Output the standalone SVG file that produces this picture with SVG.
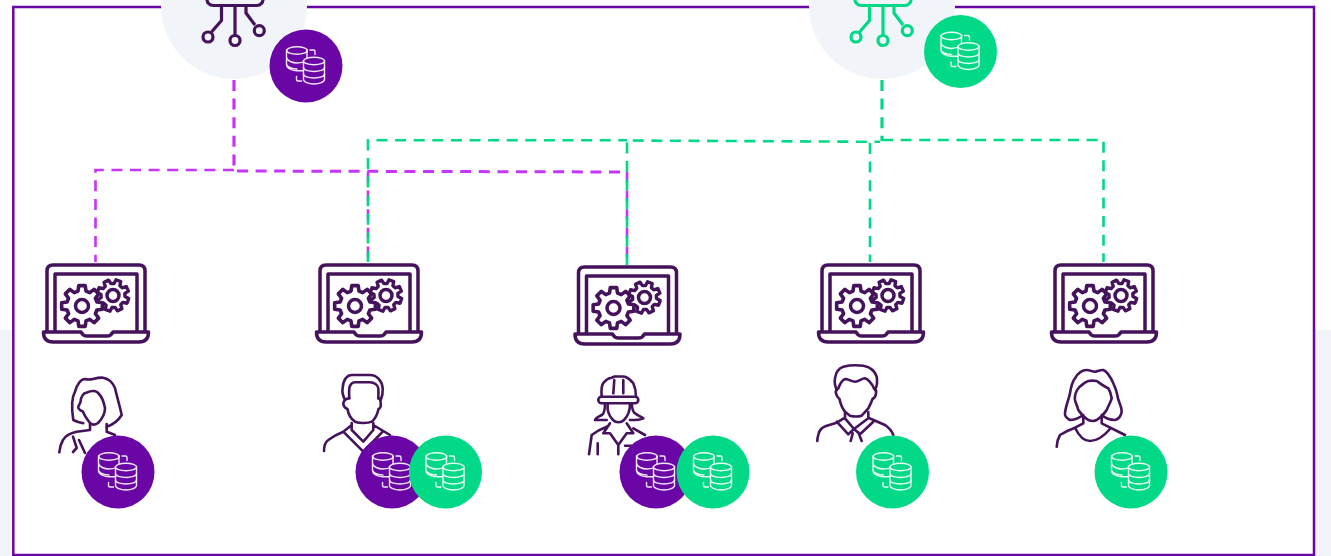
<svg xmlns="http://www.w3.org/2000/svg" width="1331" height="556" viewBox="0 0 1331 556">
<style>
.ink{fill:none;stroke:#45125c;stroke-width:2.600;stroke-linecap:round;stroke-linejoin:round}
.lap{fill:none;stroke:#45125c;stroke-width:3.500;stroke-linejoin:round;stroke-linecap:round}
.net{fill:none;stroke-width:3.200;stroke-linejoin:round}
.dash{fill:none;stroke-dasharray:11 7.6;stroke-width:2.600}
.dv{stroke:#c535fb}
.dg{stroke:#02d987}
.pur{fill:#6a06a6}
.grn{fill:#02d987}
.wl{fill:none;stroke:#fff;stroke-width:1.400;stroke-linecap:round;stroke-opacity:.9}
.wf{stroke:#fff;stroke-width:1.400;stroke-opacity:.9}
</style>
<defs>
<path id="gear" d="M14.5,-3.88 L19.75,-3.13 19.75,3.13 14.5,3.88 13,7.5 16.18,11.76 11.76,16.18 7.5,13 3.88,14.5 3.13,19.75 -3.13,19.75 -3.88,14.5 -7.5,13 -11.76,16.18 -16.18,11.76 -13,7.5 -14.5,3.88 -19.75,3.13 -19.75,-3.13 -14.5,-3.88 -13,-7.5 -16.18,-11.76 -11.76,-16.18 -7.5,-13 -3.88,-14.5 -3.13,-19.75 3.13,-19.75 3.88,-14.5 7.5,-13 11.76,-16.18 16.18,-11.76 13,-7.5 Z"/>
<g id="laptop">
<path class="lap" d="M5 67V7Q5 1 11 1H97Q103 1 103 7V67M13 67V10H95V67"/>
<path class="lap" d="M1.500 68H39Q41 72 45 72H65Q69 72 71 68H106.500Q106.500 78 97 78H11Q1.500 78 1.500 68Z"/>
<use href="#gear" class="lap" style="stroke-width:4.200" transform="translate(71 31.500) rotate(20) scale(.8)"/>
<circle class="lap" cx="71" cy="31.500" r="6"/>
<use href="#gear" class="lap" style="fill:#fff" transform="translate(40 42) scale(1.030)"/>
<circle class="lap" cx="40" cy="42" r="6.500"/>
</g>
<g id="db">
<circle r="36.500"/>
<path class="wl" d="M-19.500 -16V-1.500C-19.500 2.500 -13 4.800 -9 4.800H-3M-19.500 -9C-19.500 -5 -13 -3 -9 -3S-2 -4 1 -6M-19.500 -2C-19.500 1 -13 3 -9 3M1 -16V-8"/>
<ellipse class="wl" cx="-9" cy="-15.500" rx="10.300" ry="3.800"/>
<path class="wf" d="M-2.500 -5V13.500C-2.500 16 2.500 18 8 18S18.500 16 18.500 13.500V-5Z"/>
<ellipse class="wf" cx="8" cy="-5" rx="10.500" ry="3.800"/>
<path class="wl" d="M-2.500 1.500C-2.500 4 2.500 5.500 8 5.500S18.500 4 18.500 1.500M-2.500 8C-2.500 10.500 2.500 12 8 12S18.500 10.500 18.500 8"/>
<path class="wl" d="M4 -16H7.500Q9 -16 9 -14.500V-11.500M-9.500 10.500V13.500Q-9.500 15 -8 15H-4.500"/>
</g>
<g id="net">
<rect x="-27" y="-14" width="56" height="19.500" rx="6"/>
<path d="M-12.500 5.500V20.500L-22.500 32M1 5.500V35M12 5.500V13L21 25"/>
<circle cx="-26" cy="37" r="5"/>
<circle cx="1" cy="40.500" r="5"/>
<circle cx="25.300" cy="30.700" r="5"/>
</g>
</defs>

<rect id="panel" x="0" y="330" width="1331" height="226" fill="#f1f4f8"/>
<rect id="frame" x="13.300" y="7" width="1300.700" height="548" fill="#fff" stroke="#6a06a6" stroke-width="2.500"/>

<g id="connectors">
<path class="dash dv" style="stroke-width:3.200" d="M234 80V170"/>
<path class="dash dv" d="M234 170H95.500V262"/>
<path class="dash dv" style="stroke-width:3" d="M237 171L626 172"/>
<path class="dash dv" d="M368 172V262"/>
<path class="dash dv" d="M627 172V265"/>
<path class="dash dg" style="stroke-width:3.200" d="M882 80V141"/>
<path class="dash dg" d="M882 140H1103.500V262"/>
<path class="dash dg" d="M368 262V140.300H627"/>
<path class="dash dg" d="M627 265V140.500L880 141.800"/>
<path class="dash dg" d="M870 143V262"/>
</g>

<g id="hub-purple">
<circle cx="234" cy="6" r="73" fill="#f1f4f8"/>
<use href="#net" class="net" x="234" stroke="#45125c"/>
<use href="#db" class="pur" x="306" y="66"/>
</g>
<g id="hub-green">
<circle cx="882" cy="6" r="73" fill="#f1f4f8"/>
<use href="#net" class="net" x="882" stroke="#02d987"/>
<use href="#db" class="grn" x="960.500" y="51.500"/>
</g>

<g id="laptop-1"><use href="#laptop" x="42" y="264"/></g>
<g id="laptop-2"><use href="#laptop" x="315" y="264"/></g>
<g id="laptop-3"><use href="#laptop" x="573.500" y="266"/></g>
<g id="laptop-4"><use href="#laptop" x="817" y="264"/></g>
<g id="laptop-5"><use href="#laptop" x="1050" y="264"/></g>

<g id="person-1">
<path class="ink" d="M83.300 423.300Q78 422.500 73.300 420C71 405 72 397 75 391.700C77 384 81 379 85 379Q89 380 93 379C97 378 100 377.500 103 377.700C110 379 113 383 115 388C117 397 120 407 121.700 415C118 421 112 425 106.700 426.700"/>
<path class="ink" d="M90 423C86 418 84 415 83 411.700C79.500 410 78 408.500 78.300 406.700L80.500 402C81 396 84 393 87 392.500C92 390 97 390.500 99 394C102 397 104 403 105 408C105 414 101 420 98 423C95 425 92 425 90 423Z"/>
<path class="ink" d="M90 423V430L76.700 431.700Q66 434 63 440Q60 445 59.300 452.300M106.700 424V431.700L115 435M73 436.700L76.700 448L73 452M79 440L85 453"/>
<use href="#db" class="pur" x="118" y="472"/>
</g>

<g id="person-2">
<path class="ink" d="M345 400C342.500 395 342 391 342.700 388C343 380 347 375 351.700 375H370C377 375 382 381 382.700 388.300C383 393 382 397 380.700 400"/>
<path class="ink" d="M349.300 398.300C349 394 349 391 349.300 388C350 385 352 382.300 355 382.300H370C374 382.300 378 385 378.300 388.300C378.500 392 378.500 395 378.300 398.300"/>
<path class="ink" d="M349.300 398.300C347 398.500 344 400 343.300 403.300C343.500 406 345 408 347.500 409C348.500 415 351 419 355 421.700C359 423.500 368 423.500 371.700 421.700C375 419 377.500 414 378.500 409C380 408.500 381 406.500 380.700 403.500C380.500 400.500 380 398.500 378.300 398.300"/>
<path class="ink" d="M351.700 423V430L363.300 441.700L373.300 430V423M324 451Q324 443 328.300 440Q335 435 343.300 431.700L351.700 425M343.300 431.700L363.300 451.700L382.700 431.700M373.300 425L390 435"/>
<use href="#db" class="pur" x="392" y="472"/>
<use href="#db" class="grn" x="445.500" y="472"/>
</g>

<g id="person-3">
<path class="ink" d="M601.700 396.700C601 389 602 385 603.300 383C606 379.500 609 378 611.700 377.700L614.500 376.500H622.500L625 376.700C629 378 631.500 381 633.300 383.300C635 387 636 392 636 396.700"/>
<path class="ink" d="M614.300 380L613.300 393.300M623.300 380L623.300 393.300"/>
<rect class="ink" x="598.300" y="396.700" width="40" height="6.600" rx="3.300"/>
<path class="ink" d="M607.700 404C607 410 609 416 613 420C616 423 621 423 624 420C628 416 630 410 630 404"/>
<path class="ink" d="M605 404C605 410 603.500 414 601.700 415C598 417 595.500 418 595 420H606.700M631.700 403.500C632 408 633 412 635 413.300C638 416 642 417 643.300 418.300C640 420 635 420 630 420"/>
<path class="ink" d="M589 454.300L591.700 435Q598 430 606.700 426.700M610 423.300L603.300 433.300H610L618.300 445L626.700 433.300H633.300L626.700 423.300M618.300 445V454.300M597.700 443.300V454.300M633.300 428.300L645 435M625 445.700H631.700"/>
<use href="#db" class="pur" x="656" y="472"/>
<use href="#db" class="grn" x="713" y="472"/>
</g>

<g id="person-4">
<path class="ink" d="M836.700 390C834.500 385 834.500 381 835 378.300C836 372 839 368 843.300 366.700C850 365 857 365 863.300 365.700C870 367 875 371 876.700 376.700C877.500 381 877 386 875 390"/>
<path class="ink" d="M838.300 388.300C840 384 842 380 845 379C848 379 852 381.700 855 381.700C859 381.700 862 378 865 378.300C868 379 872 384 874 388.300"/>
<path class="ink" d="M838 388.500C836 390 835.500 392 836 393.300C836.500 396 838 398 839.500 399C840.500 404 842 408 845 411.700L850 415.700C853 416.500 859 416.500 861.700 415.700L868.300 408.300C870 405 871.500 402 872.500 399C874.500 398 876 396 876 393.300C876.500 391 875.500 389 874 388.500"/>
<path class="ink" d="M845 412V417.700L836.700 422.700L826 426Q820 428 818.500 434Q817.300 438 817.300 441M868.300 412V417.700L885 425Q891 429 893.300 435M845 418.300L854 429L868.300 418.300M836.700 421.700L848.300 434.300L854 429L860 434.300L873.300 421.700M850.700 441L852.700 433.300M861.700 441L858.300 432.300"/>
<use href="#db" class="grn" x="892.500" y="472"/>
</g>

<g id="person-5">
<path class="ink" d="M1083.300 415C1079 418 1074 420 1070 420C1066 418 1064.500 416 1065 413.300C1065.500 406 1069 399 1070 393.300C1071 387 1072 382 1075 378.300C1078 373 1082 370 1086.700 370C1090 370 1092 371.700 1095 371.700C1098 371.700 1100 369.500 1103.300 370C1108 372 1111 378 1113.300 383.300C1115 387 1116.500 391 1117.300 395C1118 402 1122 406 1121.700 411.700C1121 416 1119 419 1115 420C1111 420 1105 418 1101.700 415"/>
<path class="ink" d="M1079 387.500C1076 391 1074.500 396 1075 400C1075.500 403 1077.500 406 1078.300 410C1081 414 1085 418 1088.300 420C1092 421.500 1094 421.500 1096.700 420C1100 418 1104 414 1106.700 410C1108 406 1111 402 1111.700 398.300C1111 394 1110 391 1108.300 388.300C1105 387 1101 384 1096.700 381C1094 380.500 1091 380.500 1088.300 381C1085 382 1082 385 1079 387.500Z"/>
<path class="ink" d="M1083.300 416.700V423.300L1075 427.700Q1066 431 1060 435Q1057 440 1056.700 446.700M1101.700 416.700V423.300L1125 435M1075 427.700C1079 436 1084 441 1090 441C1097 441 1104 436 1110 429"/>
<use href="#db" class="grn" x="1131" y="472"/>
</g>
</svg>
